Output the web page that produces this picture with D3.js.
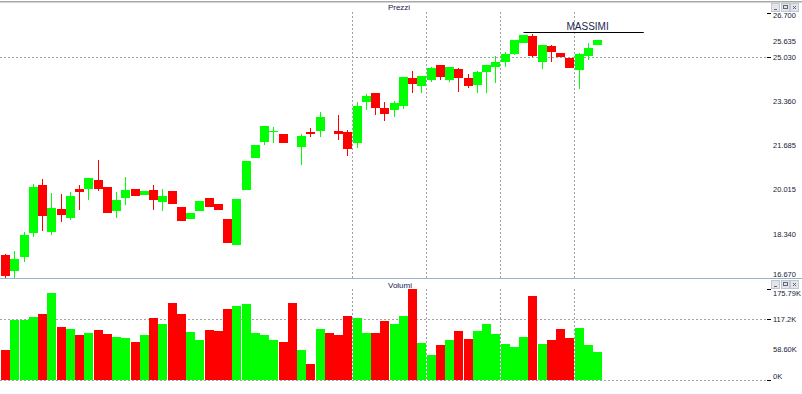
<!DOCTYPE html>
<html>
<head>
<meta charset="utf-8">
<script src="https://cdn.jsdelivr.net/npm/d3@7"></script>
<style>
  body { margin: 0; background: #fff; }
  svg { display: block; font-family: "Liberation Sans", Arial, sans-serif; }
  .axisLabel { font-size: 7.5px; fill: #1a1a38; }
  .panelTitle { font-size: 8px; fill: #202050; }
</style>
</head>
<body>
<div id="chart"></div>
<script>
// Candlestick chart (Prezzi) + volume bars (Volumi)

// 1) Data, one entry per bar (null = no candle drawn)
var opens  = [17.547,16.954,17.483,18.390,20.191,18.428,19.285,18.956,20.040,20.052,
              20.380,20.116,19.221,19.712,20.040,19.825,20.003,19.561,19.965,19.361,
              18.918,19.221,19.700,19.474,18.907,17.936,20.014,21.223,21.827,22.205,
              22.118,null,21.627,22.193,22.231,null,22.231,22.193,21.778,23.327,
              23.667,23.100,23.024,23.176,24.233,23.931,24.158,24.724,24.158,24.573,
              24.233,23.969,24.460,24.649,24.838,25.140,25.555,25.820,24.838,25.442,
              25.178,24.989,24.536,25.064,25.480];
var highs  = [17.585,17.698,18.416,20.229,20.418,19.889,19.851,19.927,20.191,20.456,
              21.136,20.116,19.927,20.494,20.040,19.965,20.191,20.040,19.965,19.361,
              19.134,19.587,19.700,19.474,18.907,19.663,21.098,21.703,22.420,22.382,
              22.118,null,22.118,22.344,22.949,null,22.836,22.269,23.327,23.629,
              23.667,23.327,23.364,24.271,24.498,24.309,24.649,24.724,24.649,24.611,
              24.384,24.498,24.724,25.064,25.215,25.669,25.857,25.895,25.480,25.480,
              25.178,24.989,25.178,25.555,25.669];
var lows   = [16.690,16.690,17.294,18.239,18.465,18.314,18.805,18.881,19.258,19.636,
              19.976,19.145,18.956,19.448,19.787,19.825,19.258,19.221,19.485,18.843,
              18.918,19.221,19.372,19.258,18.012,17.936,20.014,21.223,21.714,21.789,
              21.778,null,20.958,22.023,22.023,null,21.891,21.287,21.589,23.024,
              22.836,22.609,22.760,23.062,23.667,23.667,24.082,24.158,24.082,23.704,
              23.855,23.667,23.667,24.044,24.649,25.102,25.555,25.026,24.573,24.838,
              25.026,24.611,23.818,24.913,25.480];
var closes = [16.765,17.396,18.303,20.116,19.032,19.323,19.070,19.776,19.938,20.456,
              20.052,19.145,19.625,20.003,19.787,19.965,19.636,19.776,19.485,18.843,
              19.134,19.587,19.372,19.258,18.012,19.663,21.098,21.703,22.420,22.220,
              21.778,null,22.042,22.118,22.760,null,22.118,21.551,23.176,23.553,
              23.100,22.873,23.289,24.271,24.007,24.309,24.611,24.271,24.649,24.233,
              23.931,24.460,24.724,24.838,25.140,25.669,25.857,25.064,25.480,25.215,
              25.026,24.611,25.140,25.366,25.669];
// volume in thousands; colour follows the candle (red for bars 31 and 35 too)
var volumes = [58.0,115.9,115.9,121.7,127.5,168.1,102.4,98.5,86.9,90.8,
               96.6,88.9,83.1,81.1,73.4,86.9,119.8,108.2,148.8,127.5,
               92.7,77.3,96.6,94.7,137.2,143.0,146.8,90.8,86.9,77.3,
               73.4,148.8,58.0,30.9,98.5,90.8,86.9,123.6,119.8,90.8,
               90.8,114.0,108.2,123.6,175.8,71.5,48.3,67.6,77.3,94.7,
               79.2,94.7,108.2,88.9,69.6,63.8,83.1,162.3,69.6,77.3,
               98.5,81.1,100.5,67.6,54.1];
var volumeUp = [0,1,1,1,0,1,0,1,0,1, 0,0,1,1,0,1,0,1,0,0,
                1,1,0,0,0,1,1,1,1,1, 0,0,1,0,1,0,0,0,1,1,
                0,0,1,1,0,1,1,0,1,0, 0,1,1,1,1,1,1,0,1,0,
                0,0,1,1,1];

// Axis ticks and grid
var priceTicks = [26.700, 25.635, 25.030, 23.360, 21.685, 20.015, 18.340, 16.670];
var priceTickLabels = ['26.700', '25.635', '25.030', '23.360', '21.685', '20.015', '18.340', '16.670'];
var priceTickMarks = [26.700, 25.030];
var priceGrid = [25.030];
var volumeTicks = [175.79, 117.2, 58.60, 0];
var volumeTickLabels = ['175.79K', '117.2K', '58.60K', '0K'];
var volumeTickMarks = [175.79, 117.2, 0];
var volumeGrid = [117.2, 0];
var barGrid = [37.5, 45.5, 53.5, 61.5];   // vertical separators, in bar units

// "MASSIMI" level
var massimiLevel = 25.96;
var massimiFrom = 56, massimiTo = 69;

// 2) Scales
var width = 802, height = 394;
var plotRight = 766;

var x = d3.scaleLinear().domain([0, 64]).range([5.5, 597.5]);
var yPrice = d3.scaleLinear().domain([16.670, 26.700]).range([278.2, 12.7]);
var yVol = d3.scaleLinear().domain([0, 175.79]).range([380, 289]);

var green = '#00ff00', red = '#ff0000', gridColor = '#a0a0a0';

var svg = d3.select('#chart').append('svg')
    .attr('width', width)
    .attr('height', height);

// window frame on top
svg.append('rect').attr('x', 0).attr('y', 1).attr('width', width).attr('height', 1.5).attr('fill', '#a8a8a8');

// 3) Grid
var grid = svg.append('g').attr('stroke', gridColor).attr('stroke-dasharray', '2,2').attr('shape-rendering', 'crispEdges');

grid.selectAll('.hp').data(priceGrid).enter().append('line')
    .attr('x1', 0).attr('x2', plotRight)
    .attr('y1', function(d) { return Math.round(yPrice(d)) + 0.5; })
    .attr('y2', function(d) { return Math.round(yPrice(d)) + 0.5; });

grid.selectAll('.hv').data(volumeGrid).enter().append('line')
    .attr('x1', 0).attr('x2', plotRight)
    .attr('y1', function(d) { return Math.round(yVol(d)) + 0.5; })
    .attr('y2', function(d) { return Math.round(yVol(d)) + 0.5; });

grid.selectAll('.vp').data(barGrid).enter().append('line')
    .attr('x1', function(d) { return Math.round(x(d)) + 0.5; })
    .attr('x2', function(d) { return Math.round(x(d)) + 0.5; })
    .attr('y1', 12).attr('y2', 278);

grid.selectAll('.vv').data(barGrid).enter().append('line')
    .attr('x1', function(d) { return Math.round(x(d)) + 0.5; })
    .attr('x2', function(d) { return Math.round(x(d)) + 0.5; })
    .attr('y1', 289).attr('y2', 380);

// panel separator
svg.append('line')
    .attr('x1', 0).attr('x2', width).attr('y1', 278.5).attr('y2', 278.5)
    .attr('stroke', '#98b2ca').attr('stroke-width', 1.2);

// 4) Candles
var candles = d3.range(opens.length).filter(function(i) { return opens[i] !== null; }).map(function(i) {
   return { i: i, o: opens[i], h: highs[i], l: lows[i], c: closes[i] };
});

var candle = svg.append('g').attr('shape-rendering', 'crispEdges')
    .selectAll('g').data(candles).enter().append('g');

candle.append('line')
    .attr('x1', function(d) { return Math.round(x(d.i) - 4.5) + 4.5; })
    .attr('x2', function(d) { return Math.round(x(d.i) - 4.5) + 4.5; })
    .attr('y1', function(d) { return yPrice(d.h); })
    .attr('y2', function(d) { return yPrice(d.l); })
    .attr('stroke', function(d) { return d.c >= d.o ? green : red; })
    .attr('stroke-width', 1);

candle.append('rect')
    .attr('x', function(d) { return Math.round(x(d.i) - 4.5); })
    .attr('width', 9)
    .attr('y', function(d) { return yPrice(Math.max(d.o, d.c)); })
    .attr('height', function(d) { return Math.max(1, Math.abs(yPrice(d.o) - yPrice(d.c))); })
    .attr('fill', function(d) { return d.c >= d.o ? green : red; });

// 5) Volume bars
svg.append('g').attr('shape-rendering', 'crispEdges')
    .selectAll('rect').data(volumes).enter().append('rect')
    .attr('x', function(d, i) { return Math.round(x(i) - 4.5); })
    .attr('width', 9)
    .attr('y', function(d) { return yVol(d); })
    .attr('height', function(d) { return yVol(0) - yVol(d); })
    .attr('fill', function(d, i) { return volumeUp[i] ? green : red; });

// 6) MASSIMI level
svg.append('line')
    .attr('x1', x(massimiFrom)).attr('x2', x(massimiTo))
    .attr('y1', Math.round(yPrice(massimiLevel)) + 0.5)
    .attr('y2', Math.round(yPrice(massimiLevel)) + 0.5)
    .attr('stroke', '#000').attr('stroke-width', 1);

// label sits a bit right of the line centre in the original
svg.append('text')
    .attr('x', (x(massimiFrom) + x(massimiTo)) / 2 + 4)
    .attr('y', yPrice(massimiLevel) - 2.5)
    .attr('text-anchor', 'middle')
    .attr('font-size', 10)
    .attr('fill', '#1a2850')
    .text('MASSIMI');

// 7) Axes (right side)
var axisX = 773;

svg.selectAll('.pl').data(priceTicks).enter().append('text')
    .attr('class', 'axisLabel')
    .attr('x', axisX)
    .attr('y', function(d) { return Math.min(274, Math.max(15, yPrice(d))); })
    .attr('dy', '0.35em')
    .text(function(d, i) { return priceTickLabels[i]; });

svg.selectAll('.vl').data(volumeTicks).enter().append('text')
    .attr('class', 'axisLabel')
    .attr('x', axisX)
    .attr('y', function(d) { return Math.min(376, Math.max(293, yVol(d))); })
    .attr('dy', '0.35em')
    .text(function(d, i) { return volumeTickLabels[i]; });

var marks = svg.append('g').attr('stroke', '#000').attr('shape-rendering', 'crispEdges');
marks.selectAll('.pm').data(priceTickMarks).enter().append('line')
    .attr('x1', 767).attr('x2', 771)
    .attr('y1', function(d) { return Math.round(yPrice(d)) + 0.5; })
    .attr('y2', function(d) { return Math.round(yPrice(d)) + 0.5; });
marks.selectAll('.vm').data(volumeTickMarks).enter().append('line')
    .attr('x1', 767).attr('x2', 771)
    .attr('y1', function(d) { return Math.round(yVol(d)) + 0.5; })
    .attr('y2', function(d) { return Math.round(yVol(d)) + 0.5; });

// panel titles
svg.append('text').attr('class', 'panelTitle').attr('x', 399).attr('y', 10).attr('text-anchor', 'middle').text('Prezzi');
svg.append('text').attr('class', 'panelTitle').attr('x', 400).attr('y', 288).attr('text-anchor', 'middle').text('Volumi');

// 8) small window buttons (minimise / maximise / close)
var drawButtons = function(top) {
   var b = svg.append('g').attr('shape-rendering', 'crispEdges');
   [771, 780.5, 790].forEach(function(bx, k) {
      b.append('rect').attr('x', bx + 0.5).attr('y', top + 0.5).attr('width', 8).attr('height', 8)
          .attr('fill', '#e3e5ea').attr('stroke', '#c2c6cf');
      if (k === 0) {
         b.append('line').attr('x1', bx + 3).attr('x2', bx + 6).attr('y1', top + 6.5).attr('y2', top + 6.5).attr('stroke', '#606878');
      } else if (k === 1) {
         b.append('rect').attr('x', bx + 2.5).attr('y', top + 2.5).attr('width', 4).attr('height', 3)
             .attr('fill', 'none').attr('stroke', '#606878');
      } else {
         b.append('path').attr('d', 'M' + (bx + 3) + ',' + (top + 3) + 'l3,3m0,-3l-3,3')
             .attr('stroke', '#606878').attr('shape-rendering', 'auto');
      }
   });
};
drawButtons(3);
drawButtons(280);
</script>
</body>
</html>
